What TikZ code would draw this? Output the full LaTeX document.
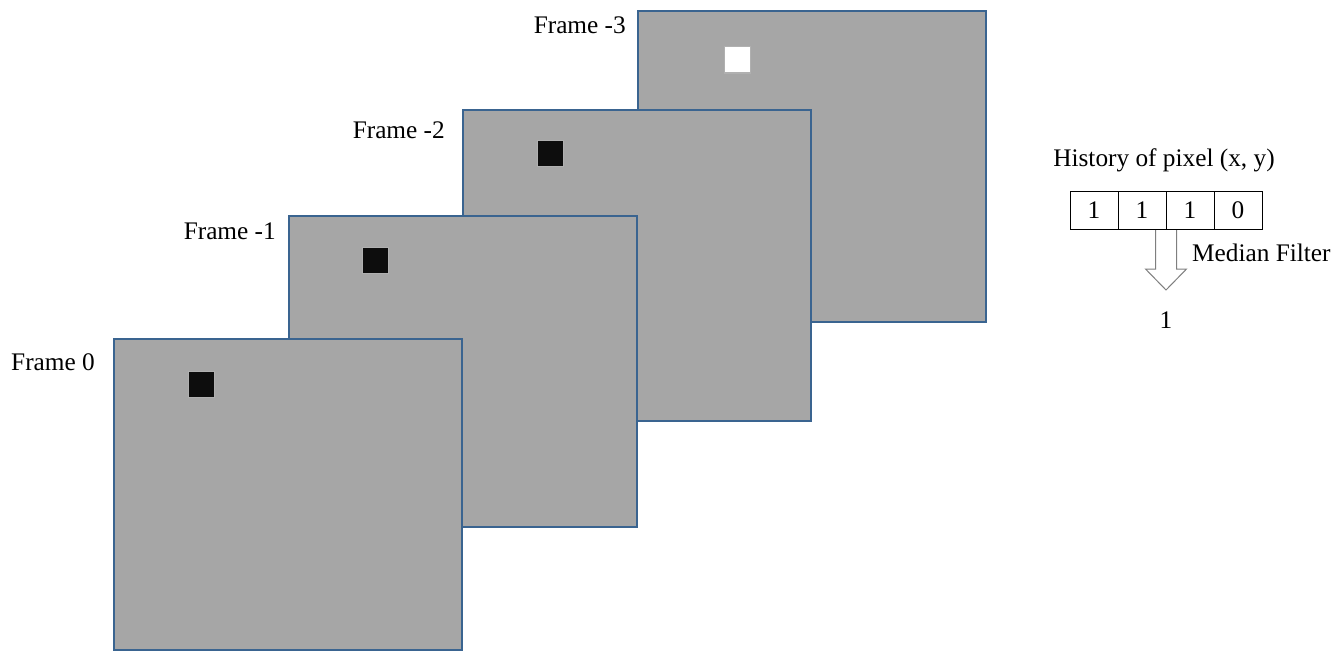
\documentclass[tikz,border=0pt]{standalone}
\usepackage{fontspec}
\setmainfont{Liberation Serif}
\definecolor{framebd}{HTML}{3A6490}
\definecolor{framefill}{HTML}{A6A6A6}
\definecolor{pixdark}{HTML}{0D0D0D}
\definecolor{pixbd}{HTML}{B0B0B0}
\definecolor{arrowbd}{HTML}{7F7F7F}
\begin{document}
\begin{tikzpicture}[x=1pt,y=-1pt,
  framebox/.style={draw=framebd, fill=framefill, line width=1.2pt, inner sep=0pt, outer sep=0pt,
    minimum width=348pt, minimum height=311pt, anchor=north west},
  pixbox/.style={draw=pixbd, line width=1pt, inner sep=0pt, outer sep=0pt,
    minimum width=26pt, minimum height=26pt, anchor=north west},
  lbl/.style={font=\fontsize{25.3}{28}\selectfont, inner sep=0pt},
  cell/.style={draw=black, line width=0.9pt, inner sep=0pt, outer sep=0pt,
    minimum width=48pt, minimum height=38pt, anchor=north west, font=\fontsize{25.3}{28}\selectfont},
  blockarrow/.style={draw=arrowbd, fill=white, line width=1pt, line join=miter}
]
\useasboundingbox (0,0) rectangle (1338,661);

% frames, back to front
\node[framebox] (f3) at (638,11) {};
\node[pixbox, fill=white] (p3) at (724,47) {};
\node[lbl, anchor=east] (l3) at (626,25) {Frame -3};

\node[framebox] (f2) at (463,110) {};
\node[pixbox, fill=pixdark] (p2) at (537,140) {};
\node[lbl, anchor=east] (l2) at (445,130) {Frame -2};

\node[framebox] (f1) at (289,216) {};
\node[pixbox, fill=pixdark] (p1) at (362,247) {};
\node[lbl, anchor=east] (l1) at (276,231) {Frame -1};

\node[framebox] (f0) at (114,339) {};
\node[pixbox, fill=pixdark] (p0) at (188,371) {};
\node[lbl, anchor=east] (l0) at (95,362) {Frame 0};

% history
\node[lbl] (hist) at (1164,160) {History of pixel (x, y)};

\coordinate (atop) at (1166,229);
\draw[blockarrow] ([xshift=-10.5pt]atop) -- ([xshift=-10.5pt,yshift=-40pt]atop)
  -- ([xshift=-20.5pt,yshift=-40pt]atop) -- ([yshift=-61pt]atop)
  -- ([xshift=20.5pt,yshift=-40pt]atop) -- ([xshift=10.5pt,yshift=-40pt]atop)
  -- ([xshift=10.5pt]atop);

\node[cell] (c1) at (1070,191) {1};
\node[cell, anchor=north west] (c2) at (c1.north east) {1};
\node[cell, anchor=north west] (c3) at (c2.north east) {1};
\node[cell, anchor=north west] (c4) at (c3.north east) {0};

\node[lbl, anchor=west] (mf) at (1192,253) {Median Filter};
\node[lbl] (out) at (1166,320) {1};
\end{tikzpicture}
\end{document}
